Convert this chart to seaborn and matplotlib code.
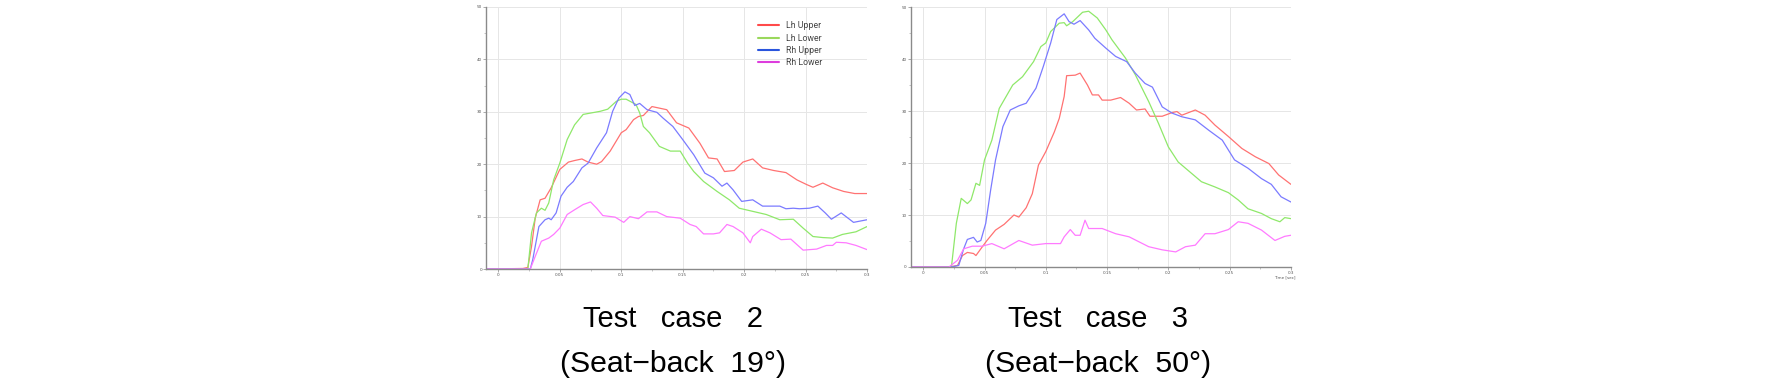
import pandas as pd
import seaborn as sns
import matplotlib.pyplot as plt
from matplotlib.lines import Line2D

series_names = ["Lh Upper", "Lh Lower", "Rh Upper", "Rh Lower"]
curve_colors = ["#ff7272", "#8fe86a", "#7b7bff", "#ff7aff"]
legend_colors = ["#ff4a4a", "#9ad85c", "#2a55dd", "#dd3ddd"]

# ---- Test case 2 (Seat-back 19 deg) ----
c2_lh_up_t = [0.02, 0.024, 0.027, 0.030, 0.034, 0.038, 0.043, 0.050, 0.057, 0.062, 0.068, 0.073, 0.080, 0.084,
              0.091, 0.100, 0.104, 0.110, 0.114, 0.118, 0.125, 0.131, 0.137, 0.145, 0.155, 0.164, 0.171, 0.178,
              0.184, 0.192, 0.199, 0.207, 0.215, 0.224, 0.234, 0.243, 0.251, 0.256, 0.264, 0.272, 0.281, 0.290, 0.300]
c2_lh_up_v = [0.1, 0.3, 4.3, 9.7, 13.2, 13.5, 15.5, 19, 20.4, 20.7, 21, 20.4, 20, 20.5,
              22.5, 26, 26.6, 28.5, 29.1, 29.3, 31, 30.7, 30.4, 27.9, 26.9, 24, 21.2, 21,
              18.6, 18.8, 20.4, 21, 19.3, 18.8, 18.4, 17, 16.1, 15.6, 16.4, 15.5, 14.8, 14.4, 14.4]
c2_lh_lo_t = [0.024, 0.027, 0.031, 0.035, 0.038, 0.041, 0.045, 0.050, 0.056, 0.062, 0.069, 0.076, 0.083, 0.089,
              0.096, 0.100, 0.104, 0.112, 0.115, 0.118, 0.123, 0.131, 0.140, 0.148, 0.154, 0.159, 0.167, 0.178,
              0.188, 0.196, 0.207, 0.218, 0.229, 0.240, 0.248, 0.256, 0.264, 0.272, 0.280, 0.291, 0.300]
c2_lh_lo_v = [0, 6.9, 10.7, 11.6, 11.2, 12.6, 17, 20.2, 24.7, 27.5, 29.5, 29.8, 30.1, 30.5,
              32, 32.4, 32.4, 31.4, 29.8, 27.2, 26, 23.4, 22.5, 22.5, 20.2, 18.6, 16.7, 14.8,
              13.2, 11.6, 11, 10.4, 9.4, 9.5, 7.8, 6.2, 6, 5.9, 6.6, 7.1, 8.1]
c2_rh_up_t = [0.026, 0.028, 0.033, 0.038, 0.041, 0.043, 0.047, 0.051, 0.056, 0.061, 0.068, 0.073, 0.080, 0.088,
              0.093, 0.098, 0.103, 0.107, 0.111, 0.115, 0.121, 0.129, 0.134, 0.142, 0.150, 0.159, 0.168, 0.175,
              0.182, 0.186, 0.191, 0.198, 0.207, 0.215, 0.229, 0.234, 0.240, 0.245, 0.253, 0.260, 0.266, 0.271,
              0.279, 0.289, 0.300]
c2_rh_up_v = [0, 1.8, 8.1, 9.4, 9.7, 9.4, 10.7, 13.9, 15.6, 16.7, 19.3, 20.2, 23.1, 26,
              30.1, 32.6, 33.8, 33.3, 31.2, 31.6, 30.4, 29.9, 28.8, 27.2, 24.7, 21.8, 18.3, 17.4,
              15.8, 16.4, 15.1, 12.9, 13.2, 12, 12, 11.5, 11.6, 11.5, 11.6, 12, 10.7, 9.5,
              10.7, 8.9, 9.4]
c2_rh_lo_t = [0.026, 0.030, 0.035, 0.041, 0.045, 0.050, 0.056, 0.062, 0.069, 0.075, 0.080, 0.085, 0.095, 0.102,
              0.107, 0.114, 0.121, 0.129, 0.137, 0.148, 0.156, 0.161, 0.167, 0.175, 0.180, 0.186, 0.191, 0.199,
              0.205, 0.207, 0.214, 0.221, 0.230, 0.238, 0.248, 0.259, 0.267, 0.272, 0.275, 0.283, 0.291, 0.300]
c2_rh_lo_v = [0, 2.4, 5.3, 5.9, 6.6, 7.8, 10.4, 11.3, 12.3, 12.8, 11.6, 10.2, 9.9, 8.9,
              10, 9.6, 10.9, 10.9, 10, 9.7, 8.5, 8.1, 6.7, 6.7, 6.9, 8.5, 8.1, 6.9,
              5, 6.2, 7.6, 6.9, 5.6, 5.7, 3.6, 3.8, 4.5, 4.5, 5.1, 5, 4.5, 3.7]

# ---- Test case 3 (Seat-back 50 deg) ----
c3_lh_up_t = [0.021, 0.028, 0.032, 0.036, 0.041, 0.043, 0.047, 0.052, 0.059, 0.066, 0.074, 0.078, 0.084, 0.089,
              0.094, 0.100, 0.107, 0.111, 0.115, 0.117, 0.124, 0.128, 0.134, 0.138, 0.143, 0.146, 0.153, 0.161,
              0.168, 0.174, 0.181, 0.185, 0.195, 0.203, 0.207, 0.211, 0.222, 0.230, 0.238, 0.249, 0.260, 0.271,
              0.282, 0.290, 0.300]
c3_lh_up_v = [0, 0.3, 2.2, 2.8, 2.6, 2.2, 3.5, 5.1, 7.1, 8.2, 10, 9.6, 11.4, 14.1,
              19.6, 22.2, 26, 28.6, 32.8, 36.8, 36.9, 37.3, 35, 33.1, 33.1, 32.1, 32.1, 32.6,
              31.5, 30.2, 30.4, 29, 29, 29.7, 29.9, 29.2, 30.2, 29.2, 27.3, 25.1, 22.8, 21.2,
              19.9, 17.7, 15.9]
c3_lh_lo_t = [0.023, 0.027, 0.031, 0.036, 0.039, 0.043, 0.046, 0.050, 0.056, 0.062, 0.073, 0.081, 0.090, 0.096,
              0.100, 0.104, 0.111, 0.115, 0.117, 0.122, 0.130, 0.135, 0.142, 0.149, 0.154, 0.165, 0.173, 0.184,
              0.192, 0.200, 0.208, 0.216, 0.227, 0.238, 0.249, 0.257, 0.265, 0.276, 0.284, 0.291, 0.295, 0.300]
c3_lh_lo_v = [0, 8.4, 13.2, 12.2, 12.9, 16.1, 15.7, 20.6, 24.4, 30.5, 35, 36.6, 39.5, 42.4,
              43.1, 45.3, 46.9, 47, 46.4, 47.2, 49, 49.2, 47.9, 45.6, 43.7, 40.2, 37, 31.8,
              27.6, 23.1, 20.2, 18.6, 16.4, 15.4, 14.3, 12.9, 11.2, 10.3, 9.3, 8.7, 9.5, 9.3]
c3_rh_up_t = [0.023, 0.029, 0.033, 0.036, 0.041, 0.044, 0.047, 0.051, 0.055, 0.059, 0.065, 0.071, 0.078, 0.084,
              0.092, 0.098, 0.104, 0.109, 0.115, 0.119, 0.123, 0.128, 0.135, 0.140, 0.149, 0.157, 0.166, 0.173,
              0.181, 0.187, 0.195, 0.203, 0.211, 0.222, 0.233, 0.244, 0.254, 0.265, 0.276, 0.284, 0.292, 0.300]
c3_rh_up_v = [0, 0.3, 3.5, 5.3, 5.7, 4.8, 5.1, 8.4, 14.8, 20.6, 27, 30.2, 31, 31.5,
              34.4, 38.6, 43.1, 47.6, 48.7, 47.2, 46.7, 47.4, 45.6, 44, 42.1, 40.5, 39.5, 37.3,
              35.3, 34.6, 30.8, 29.6, 28.9, 28.3, 26.3, 24.4, 20.6, 19, 17, 15.9, 13.5, 12.5]
c3_rh_lo_t = [0.021, 0.028, 0.033, 0.040, 0.048, 0.056, 0.066, 0.078, 0.089, 0.100, 0.112, 0.115, 0.120, 0.124,
              0.128, 0.132, 0.135, 0.146, 0.157, 0.168, 0.184, 0.195, 0.206, 0.214, 0.222, 0.230, 0.238, 0.249,
              0.257, 0.265, 0.276, 0.287, 0.295, 0.300]
c3_rh_lo_v = [0, 1.3, 3.5, 4, 4, 4.5, 3.5, 5.1, 4.2, 4.5, 4.5, 5.8, 7.2, 6.1,
              6.1, 9, 7.4, 7.4, 6.4, 5.8, 3.9, 3.3, 2.9, 3.9, 4.2, 6.4, 6.4, 7.2,
              8.7, 8.4, 7.1, 5.1, 5.9, 6.1]

x_ticks = [0, 0.05, 0.1, 0.15, 0.2, 0.25, 0.3]
x_tick_labels = ["0", "0.05", "0.1", "0.15", "0.2", "0.25", "0.3"]
y_ticks = [0, 10, 20, 30, 40, 50]

caption_titles = ["Test   case   2", "Test   case   3"]
caption_notes = ["(Seat\u2212back  19\u00b0)", "(Seat\u2212back  50\u00b0)"]


def to_frame(pairs):
    rows = []
    for name, (t, v) in zip(series_names, pairs):
        # flat zero baseline before the start of the record
        for ti, vi in zip([-0.01] + t, [0] + v):
            rows.append({"time": ti, "force": vi, "series": name})
    return pd.DataFrame(rows)


case2 = to_frame([(c2_lh_up_t, c2_lh_up_v), (c2_lh_lo_t, c2_lh_lo_v),
                  (c2_rh_up_t, c2_rh_up_v), (c2_rh_lo_t, c2_rh_lo_v)])
case3 = to_frame([(c3_lh_up_t, c3_lh_up_v), (c3_lh_lo_t, c3_lh_lo_v),
                  (c3_rh_up_t, c3_rh_up_v), (c3_rh_lo_t, c3_rh_lo_v)])

sns.set_theme(style="white")
plt.rcParams["font.family"] = ["DejaVu Sans"]

fig = plt.figure(figsize=(17.72, 3.8), dpi=100)
ax1 = fig.add_axes([0.2743, 0.2921, 0.2150, 0.6895])
ax2 = fig.add_axes([0.5141, 0.2974, 0.2144, 0.6840])

for ax, df in [(ax1, case2), (ax2, case3)]:
    sns.lineplot(data=df, x="time", y="force", hue="series", hue_order=series_names,
                 palette=curve_colors, estimator=None, sort=False, linewidth=0.9,
                 legend=False, ax=ax)
    ax.set_xlim(-0.01, 0.3)
    ax.set_ylim(0, 50)
    ax.set_xticks(x_ticks)
    ax.set_xticklabels(x_tick_labels)
    ax.set_yticks(y_ticks)
    ax.set_xticks([0.025, 0.075, 0.125, 0.175, 0.225, 0.275], minor=True)
    ax.set_yticks([5, 15, 25, 35, 45], minor=True)
    ax.grid(True, which="major", color="#e6e6e6", linewidth=0.7)
    ax.set_axisbelow(True)
    ax.tick_params(axis="both", which="major", labelsize=3, length=2, width=0.5,
                   colors="#888888", labelcolor="#555555", pad=1, direction="out")
    ax.tick_params(axis="both", which="minor", length=1.2, width=0.4, colors="#999999")
    ax.tick_params(bottom=True, left=True, which="both")
    for side in ["top", "right"]:
        ax.spines[side].set_visible(False)
    for side in ["left", "bottom"]:
        ax.spines[side].set_color("#8a8a8a")
        ax.spines[side].set_linewidth(1.0)
    ax.set_xlabel("")
    ax.set_ylabel("")

ax2.text(0.295, -1.6, "Time [sec]", fontsize=3, color="#555555", ha="center", va="top")

handles = [Line2D([0], [0], color=c, linewidth=1.5) for c in legend_colors]
ax1.legend(handles, series_names, loc="upper left", bbox_to_anchor=(0.692, 0.975),
           frameon=False, prop={"family": "Roboto", "size": 6.3}, handlelength=2.4,
           labelspacing=0.36, handletextpad=0.8, labelcolor="#444444")

for cx, title, note in zip([0.3798, 0.6196], caption_titles, caption_notes):
    fig.text(cx, 0.1395, title, ha="center", va="baseline", fontsize=21,
             family="Liberation Sans", color="black")
    fig.text(cx, 0.021, note, ha="center", va="baseline", fontsize=21.8,
             family="Liberation Sans", color="black")

fig.savefig("out.png", dpi=100)
